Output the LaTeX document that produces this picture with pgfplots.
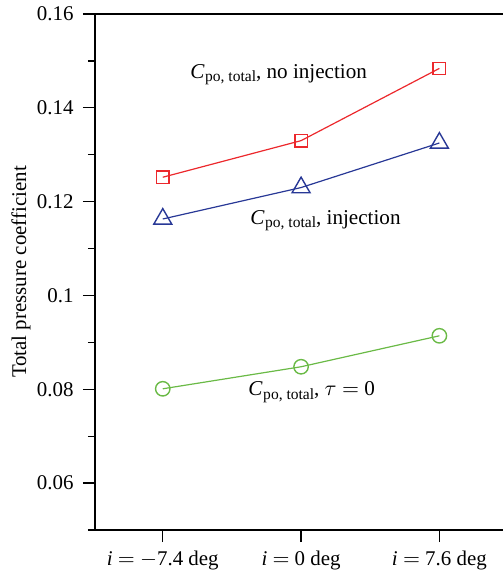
\documentclass[border=0pt]{standalone}
\usepackage{fontspec}
\setmainfont{Liberation Serif}
\usepackage{pgfplots}
\pgfplotsset{compat=1.18}

\definecolor{cred}{RGB}{236,40,44}
\definecolor{cblue}{RGB}{40,56,150}
\definecolor{cgreen}{RGB}{106,186,70}

\newcommand{\Cpo}{\textit{C}\kern0.3pt\raisebox{-0.35ex}{\fontsize{7.8}{9}\selectfont po, total}}

\begin{document}
\fontsize{10.6}{12}\selectfont
\begin{tikzpicture}
\begin{axis}[
  scale only axis,
  width=204bp, height=258bp,
  xmin=-0.49, xmax=2.46,
  ymin=0.05, ymax=0.16,
  axis x line=box, axis y line=left,
  axis line style={line width=0.9bp, -},
  x axis line style={shorten <=-3.5bp},
  xtick={0,1,2},
  xticklabels={{\textit{i} $=$ $-$7.4 deg},{\textit{i} $=$ 0 deg},{\textit{i} $=$ 7.6 deg}},
  xtick pos=bottom,
  ytick={0.06,0.08,0.1,0.12,0.14,0.16},
  yticklabels={0.06,0.08,0.1,0.12,0.14,0.16},
  minor y tick num=1,
  tick align=outside,
  major tick length=6bp, minor tick length=3.5bp,
  tick style={line width=0.6bp, black},
  /pgf/number format/assume math mode=true,
  every tick label/.append style={font=\fontsize{10.5}{12}\selectfont},
  y tick label style={xshift=-1bp},
  x tick label style={yshift=-1bp},
  ylabel={Total pressure coefficient},
  ylabel style={font=\fontsize{10.5}{12}\selectfont, yshift=-4bp},
  clip=false,
]
% no injection
\addplot[cred, line width=0.6bp, mark=square, mark size=3.1bp, mark options={solid, line width=0.7bp}]
  coordinates {(0,0.1252) (1,0.1330) (2,0.1484)};
% injection
\addplot[cblue, line width=0.6bp, mark=triangle, mark size=5.2bp, mark options={solid, line width=0.7bp}]
  coordinates {(0,0.1163) (1,0.1230) (2,0.1325)};
% tau = 0
\addplot[cgreen, line width=0.6bp, mark=o, mark size=3.6bp, mark options={solid, line width=0.7bp}]
  coordinates {(0,0.0801) (1,0.0848) (2,0.0914)};

\node[anchor=west, inner sep=0pt] at (axis cs:0.196,0.1471) {\Cpo, no injection};
\node[anchor=west, inner sep=0pt] at (axis cs:0.63,0.1159) {\Cpo, injection};
\node[anchor=west, inner sep=0pt] at (axis cs:0.616,0.0794) {\Cpo, $\tau$ $=$ 0};
\end{axis}
\pgfresetboundingbox
\path ([xshift=-47.5bp,yshift=-21.5bp]current axis.south west)
  rectangle ([yshift=7bp]current axis.north east);
\end{tikzpicture}
\end{document}
